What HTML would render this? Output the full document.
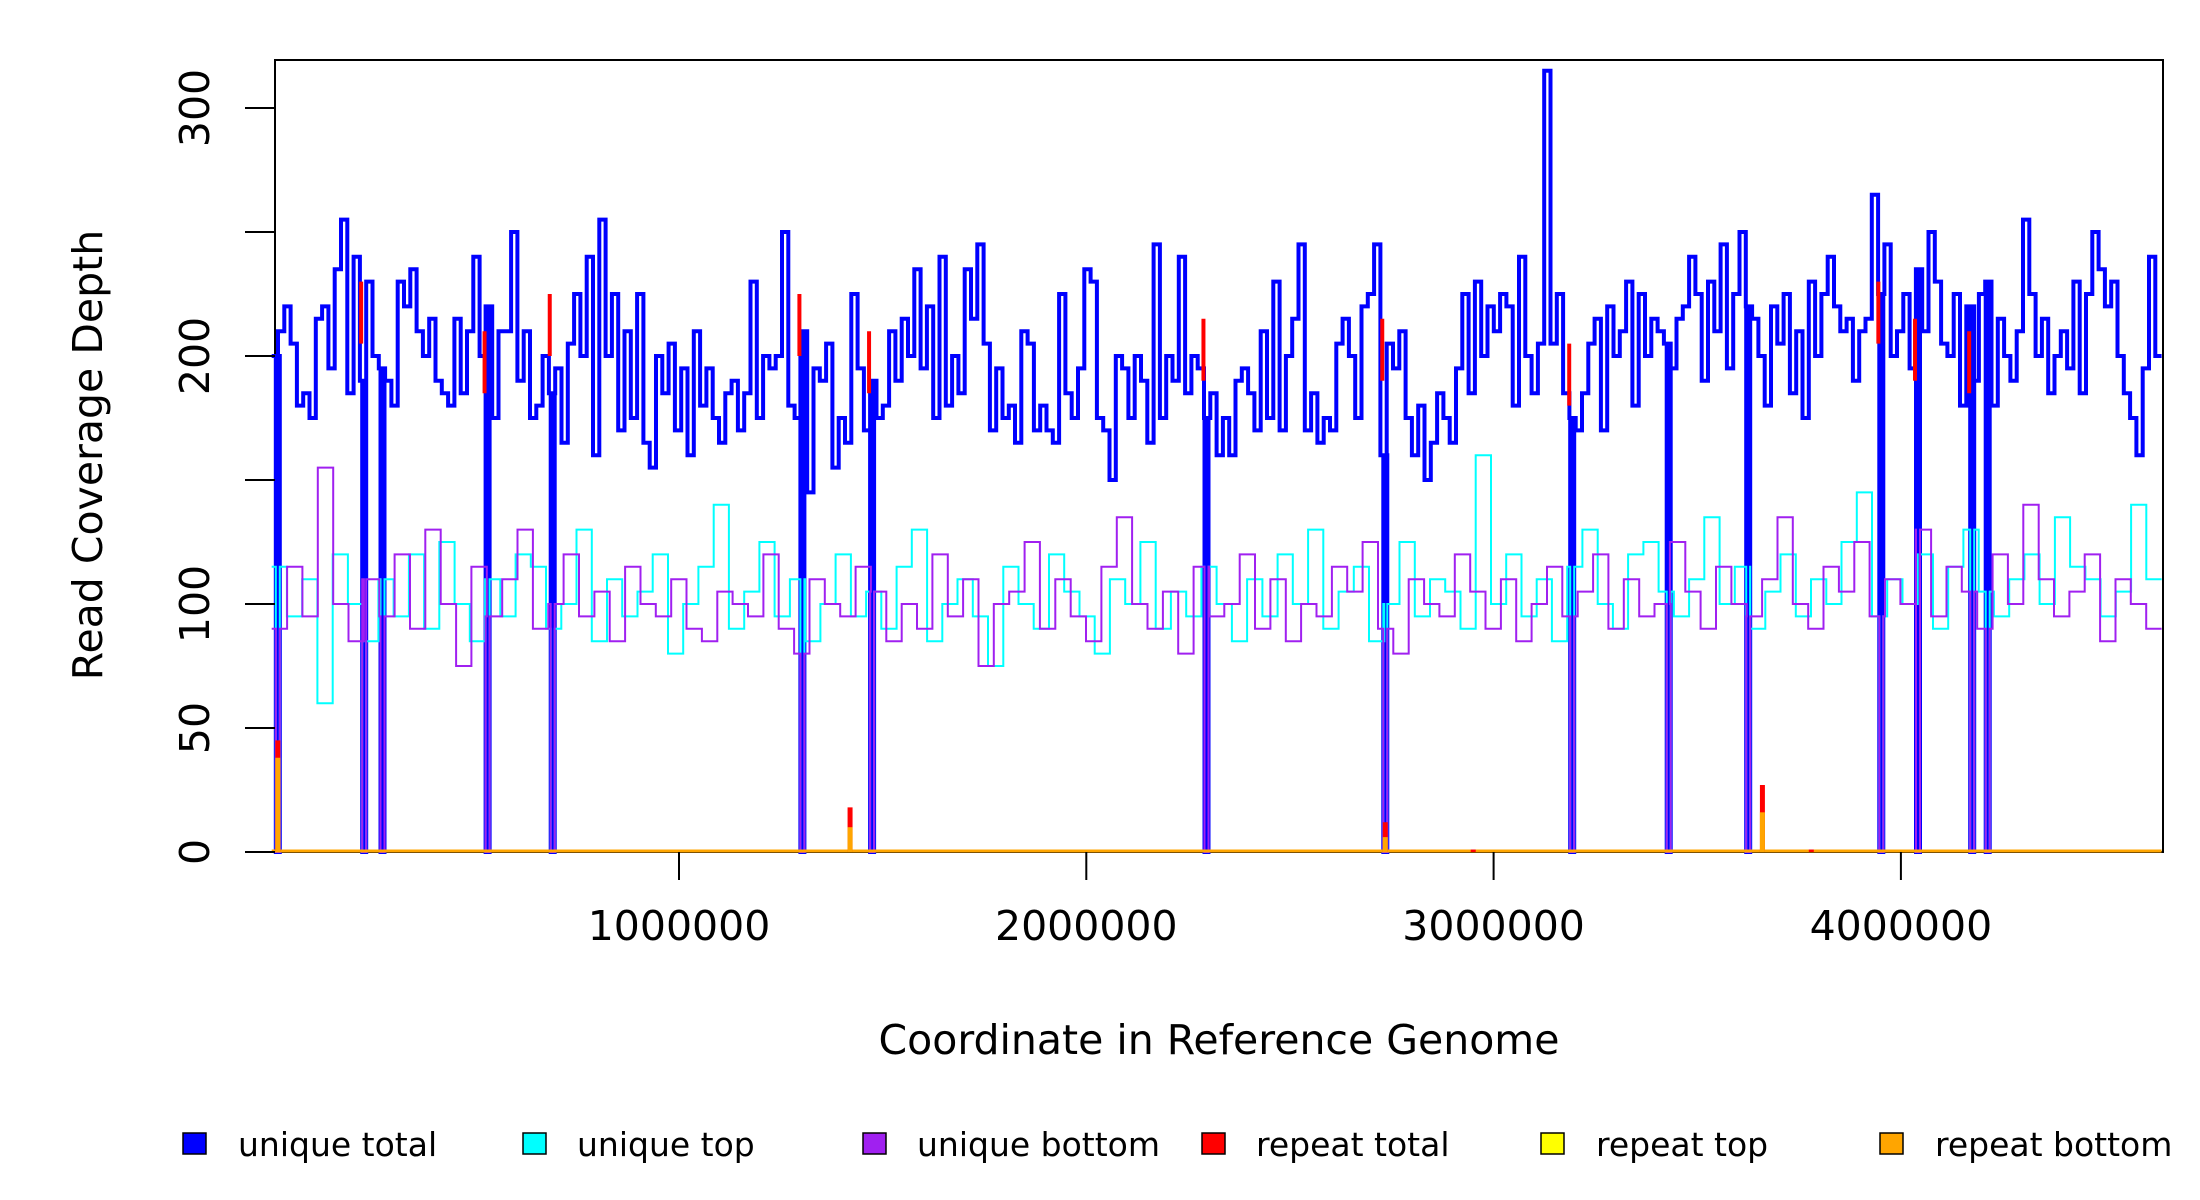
<!DOCTYPE html>
<html><head><meta charset="utf-8"><style>
body{margin:0;background:#fff;}
svg{display:block;font-family:"DejaVu Sans","Liberation Sans",sans-serif;}
</style></head><body>
<svg id="chart" width="2200" height="1200" viewBox="0 0 2200 1200">
<rect x="275" y="60" width="1888" height="792" fill="none" stroke="#000" stroke-width="2"/>
<g id="marks"></g>
<g id="axes"></g>
<text x="1219" y="1054" font-size="41" text-anchor="middle">Coordinate in Reference Genome</text>
<text transform="translate(102,455) rotate(-90)" font-size="41" text-anchor="middle">Read Coverage Depth</text>
<g font-size="33">
<g><rect x="183" y="1133" width="23" height="21" fill="#0000ff" stroke="#000" stroke-width="1.5"/><text x="238" y="1156">unique total</text></g>
<g><rect x="523" y="1133" width="23" height="21" fill="#00ffff" stroke="#000" stroke-width="1.5"/><text x="577" y="1156">unique top</text></g>
<g><rect x="863" y="1133" width="23" height="21" fill="#a020f0" stroke="#000" stroke-width="1.5"/><text x="917" y="1156">unique bottom</text></g>
<g><rect x="1202" y="1133" width="23" height="21" fill="#ff0000" stroke="#000" stroke-width="1.5"/><text x="1256" y="1156">repeat total</text></g>
<g><rect x="1541" y="1133" width="23" height="21" fill="#ffff00" stroke="#000" stroke-width="1.5"/><text x="1596" y="1156">repeat top</text></g>
<g><rect x="1880" y="1133" width="23" height="21" fill="#ffa500" stroke="#000" stroke-width="1.5"/><text x="1935" y="1156">repeat bottom</text></g>
</g>
</svg>
<script>
const genomeLength = 4640000;
const xTicks = [1000000, 2000000, 3000000, 4000000];
const xTickLabels = ["1000000", "2000000", "3000000", "4000000"];
const yTicks = [0, 50, 100, 150, 200, 250, 300];
const yTickLabels = ["0", "50", "100", "", "200", "", "300"];
const uniqueTotal = [200,210,220,205,180,185,175,215,220,195,235,255,185,240,190,230,200,195,190,180,230,220,235,210,200,215,190,185,180,215,185,210,240,200,220,175,210,210,250,190,210,175,180,200,185,195,165,205,225,200,240,160,255,200,225,170,210,175,225,165,155,200,185,205,170,195,160,210,180,195,175,165,185,190,170,185,230,175,200,195,200,250,180,175,210,145,195,190,205,155,175,165,225,195,170,190,175,180,210,190,215,200,235,195,220,175,240,180,200,185,235,215,245,205,170,195,175,180,165,210,205,170,180,170,165,225,185,175,195,235,230,175,170,150,200,195,175,200,190,165,245,175,200,190,240,185,200,195,175,185,160,175,160,190,195,185,170,210,175,230,170,200,215,245,170,185,165,175,170,205,215,200,175,220,225,245,160,205,195,210,175,160,180,150,165,185,175,165,195,225,185,230,200,220,210,225,220,180,240,200,185,205,315,205,225,185,175,170,185,205,215,170,220,200,210,230,180,225,200,215,210,205,195,215,220,240,225,190,230,210,245,195,225,250,220,215,200,180,220,205,225,185,210,175,230,200,225,240,220,210,215,190,210,215,265,225,245,200,210,225,195,235,210,250,230,205,200,225,180,220,190,225,230,180,215,200,190,210,255,225,200,215,185,200,210,195,230,185,225,250,235,220,230,200,185,175,160,195,240,200];
const uniqueTop = [115,95,110,60,120,100,85,110,95,120,90,125,100,85,110,95,120,115,90,100,130,85,110,95,105,120,80,100,115,140,90,105,125,95,110,85,100,120,95,105,90,115,130,85,100,110,95,75,115,100,90,120,105,95,80,110,100,125,90,105,95,115,100,85,110,95,120,100,130,90,105,115,85,100,125,95,110,105,90,160,100,120,95,110,85,115,130,100,90,120,125,105,95,110,135,100,115,90,105,120,95,110,100,125,145,95,110,100,120,90,115,130,105,95,110,120,100,135,115,110,95,105,140,110];
const uniqueBottom = [90,115,95,155,100,85,110,95,120,90,130,100,75,115,95,110,130,90,100,120,95,105,85,115,100,95,110,90,85,105,100,95,120,90,80,110,100,95,115,105,85,100,90,120,95,110,75,100,105,125,90,110,95,85,115,135,100,90,105,80,115,95,100,120,90,110,85,100,95,115,105,125,90,80,110,100,95,120,105,90,110,85,100,115,95,105,120,90,110,95,100,125,105,90,115,100,95,110,135,100,90,115,105,125,95,110,100,130,95,115,105,90,120,100,140,110,95,105,120,85,110,100,90];
const dipPositions = [15000,227000,272000,530000,690000,1303000,1474000,2295000,2734000,3193000,3430000,3625000,3952000,4042000,4175000,4213000];
const repeatPositions = [15000,1420000,2734000,2950000,3660000,3780000];
const repeatTotal = [45,18,12,1,27,1];
const repeatBottom = [38,10,6,0,16,0];
const redTopPositions = [227000,530000,690000,1303000,1474000,2295000,2734000,3193000,3952000,4042000,4175000];
const redTopValues = [230,210,225,225,210,215,215,205,230,215,210];

const NS = "http://www.w3.org/2000/svg";
const X0 = 271.7, PXM = 407.3 / 1e6, Y0 = 852, PXV = 744 / 300;
function xs(v){ return X0 + v * PXM; }
function ys(v){ return Y0 - v * PXV; }
const marks = document.getElementById('marks');
const axes = document.getElementById('axes');
function mk(tag, attrs, parent){ const e = document.createElementNS(NS, tag); for (const k in attrs) e.setAttribute(k, attrs[k]); parent.appendChild(e); return e; }

function stepPath(vals){
  const bw = genomeLength / vals.length;
  let d = "";
  for (let i = 0; i < vals.length; i++){
    const a = i * bw, b = (i + 1) * bw, y = ys(vals[i]);
    let cx = xs(a);
    d += (i === 0 ? "M" : "L") + cx.toFixed(1) + "," + y.toFixed(1);
    for (const p of dipPositions){
      if (p >= a && p < b){
        const px = xs(p);
        d += "L" + (px - 2).toFixed(1) + "," + y.toFixed(1) + "L" + (px - 2).toFixed(1) + "," + ys(0) + "L" + (px + 2).toFixed(1) + "," + ys(0) + "L" + (px + 2).toFixed(1) + "," + y.toFixed(1);
      }
    }
    d += "L" + xs(b).toFixed(1) + "," + y.toFixed(1);
  }
  return d;
}
const pTotal = mk('path', {d: stepPath(uniqueTotal), fill: 'none', stroke: '#0000ff', 'stroke-width': 4}, marks);


const pTop = mk('path', {d: stepPath(uniqueTop), fill: 'none', stroke: '#00ffff', 'stroke-width': 2}, marks);


const pBot = mk('path', {d: stepPath(uniqueBottom), fill: 'none', stroke: '#a020f0', 'stroke-width': 2}, marks);



redTopPositions.forEach((p, i) => {
  const l = mk('line', {x1: xs(p) - 3, x2: xs(p) - 3, y1: ys(redTopValues[i]), y2: ys(redTopValues[i] - 25), stroke: '#ff0000', 'stroke-width': 4}, marks);
  
  
});
const base = mk('line', {x1: xs(0), x2: xs(genomeLength), y1: ys(0) - 1, y2: ys(0) - 1, stroke: '#ffa500', 'stroke-width': 3}, marks);


repeatPositions.forEach((p, i) => {
  const r = mk('line', {x1: xs(p), x2: xs(p), y1: ys(0), y2: ys(repeatTotal[i]), stroke: '#ff0000', 'stroke-width': 5}, marks);
  
  
  const o = mk('line', {x1: xs(p), x2: xs(p), y1: ys(0), y2: ys(repeatBottom[i]), stroke: '#ffa500', 'stroke-width': 5}, marks);
  
  
});

yTicks.forEach((t, i) => {
  const l = mk('line', {x1: 245, x2: 275, y1: ys(t), y2: ys(t), stroke: '#000', 'stroke-width': 2}, axes);
  
  
  if (yTickLabels[i]){
    const tx = mk('text', {transform: 'translate(209,' + ys(t) + ') rotate(-90)', 'font-size': 41, 'text-anchor': 'middle'}, axes);
    tx.textContent = yTickLabels[i];
    
    
  }
});
xTicks.forEach((t, i) => {
  const l = mk('line', {x1: xs(t), x2: xs(t), y1: 852, y2: 880, stroke: '#000', 'stroke-width': 2}, axes);
  
  
  const tx = mk('text', {x: xs(t), y: 940, 'font-size': 41, 'text-anchor': 'middle'}, axes);
  tx.textContent = xTickLabels[i];
  
  
});
</script>
</body></html>
